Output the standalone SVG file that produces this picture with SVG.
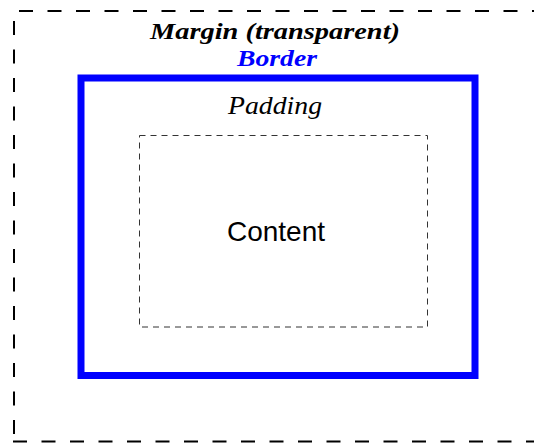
<svg xmlns="http://www.w3.org/2000/svg" width="534" height="443" viewBox="0 0 534 443">
<style>
.margin{fill:none;stroke:#000;stroke-width:2;stroke-dasharray:14,14.5}
.border{fill:none;stroke:#0000ff;stroke-width:7}
.padding{fill:none;stroke:#333;stroke-width:1;stroke-dasharray:6,5}
.serif{font-family:"Liberation Serif","Times New Roman",serif;font-style:italic;text-anchor:middle}
.sans{font-family:"Liberation Sans",Arial,sans-serif;text-anchor:middle}
</style>
<rect width="534" height="443" fill="#fff"/>
<g id="margin">
<line class="margin" x1="19" y1="11" x2="560" y2="11"/>
<line class="margin" x1="14" y1="21" x2="14" y2="440"/>
<line class="margin" x1="13" y1="441.5" x2="560" y2="441.5"/>
<text class="serif" x="275" y="38.5" font-size="24" font-weight="bold" fill="#000" textLength="250" lengthAdjust="spacingAndGlyphs">Margin (transparent)</text>
</g>
<g id="border">
<rect class="border" x="81" y="78" width="394" height="297.5"/>
<text class="serif" x="277" y="66" font-size="24" font-weight="bold" fill="#0000ff" textLength="80" lengthAdjust="spacingAndGlyphs">Border</text>
</g>
<g id="padding">
<rect class="padding" x="139.5" y="135.5" width="288" height="191.5"/>
<text class="serif" x="275" y="114" font-size="25" fill="#000" textLength="94" lengthAdjust="spacingAndGlyphs">Padding</text>
</g>
<g id="content">
<text class="sans" x="276" y="241" font-size="28" fill="#000">Content</text>
</g>
</svg>
